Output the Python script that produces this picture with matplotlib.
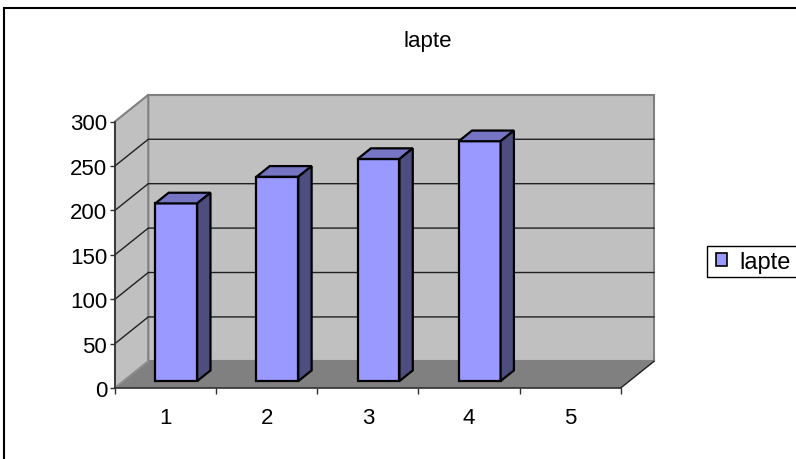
import matplotlib
matplotlib.use("Agg")
import matplotlib.pyplot as plt
from matplotlib.patches import Polygon, Rectangle

plt.rcParams['font.family'] = ['Liberation Sans', 'DejaVu Sans']

title = "lapte"
series_name = "lapte"
categories = [1, 2, 3, 4, 5]
values = [200, 230, 250, 270, None]
y_ticks = [0, 50, 100, 150, 200, 250, 300]

# fake 3d look: depth offset of the back wall in data units
DX = 0.329
DY = 30.0
F0, F1 = 0.26, 0.66      # bar depth (fraction of the floor depth)
HALF_W = 0.207

WALL = '#C0C0C0'
FLOOR = '#808080'
BAR_FRONT = '#9999FF'
BAR_TOP = '#7575C4'
BAR_SIDE = '#4D4D80'

fig = plt.figure(figsize=(7.96, 4.60), dpi=100)
ax = fig.add_axes([115 / 796, 1 - 389 / 460, 505.7 / 796, 266.5 / 460])
xmin, xmax = 0.5, len(categories) + 0.5
ymin, ymax = 0, 300
ax.set_xlim(xmin, xmax)
ax.set_ylim(ymin, ymax)
for s in ax.spines.values():
    s.set_visible(False)
ax.patch.set_visible(False)


def poly(pts, fc, ec='none', lw=1.0, z=1):
    ax.add_patch(Polygon(pts, closed=True, facecolor=fc, edgecolor=ec,
                         linewidth=lw, clip_on=False, zorder=z, joinstyle='miter'))


# back wall, side wall, floor
poly([(xmin + DX, ymin + DY), (xmax + DX, ymin + DY), (xmax + DX, ymax + DY), (xmin + DX, ymax + DY)],
     WALL, '#808080', 1.5, 1)
poly([(xmin, ymin), (xmin + DX, ymin + DY), (xmin + DX, ymax + DY), (xmin, ymax)], WALL, '#808080', 1.5, 1)

# gridlines on the walls
for t in y_ticks[1:-1]:
    ax.plot([xmin, xmin + DX, xmax + DX], [t, t + DY, t + DY], color='#202020', lw=1.0,
            clip_on=False, zorder=2)

poly([(xmin, ymin), (xmax, ymin), (xmax + DX, ymin + DY), (xmin + DX, ymin + DY)], FLOOR, 'none', 1, 3)
ax.plot([xmax, xmax + DX], [ymin, ymin + DY], color='#202020', lw=1.0, clip_on=False, zorder=3)
ax.plot([xmin, xmin + DX], [ymin, ymin + DY], color='#909090', lw=1.0, clip_on=False, zorder=3)

# axes lines
ax.plot([xmin, xmin], [ymin, ymax], color='#303030', lw=1.2, clip_on=False, zorder=4)
ax.plot([xmin, xmax], [ymin, ymin], color='#303030', lw=1.2, clip_on=False, zorder=4)

# columns
for c, v in zip(categories, values):
    if v is None:
        continue
    x0 = c - HALF_W + 0.02 + F0 * DX
    x1 = c + HALF_W + 0.02 + F0 * DX
    y0 = F0 * DY
    d = (F1 - F0)
    y1 = v + y0
    poly([(x0, y0), (x1, y0), (x1, y1), (x0, y1)], BAR_FRONT, 'black', 1.6, 5)
    poly([(x0, y1), (x1, y1), (x1 + d * DX, y1 + d * DY), (x0 + d * DX, y1 + d * DY)],
         BAR_TOP, 'black', 1.6, 5)
    poly([(x1, y0), (x1 + d * DX, y0 + d * DY), (x1 + d * DX, y1 + d * DY), (x1, y1)],
         BAR_SIDE, 'black', 1.6, 5)

ax.set_yticks(y_ticks)
ax.set_yticklabels([str(t) for t in y_ticks])
ax.tick_params(axis='y', length=3.6, width=1.0, pad=2, labelsize=16, color='#303030')

ax.set_xticks([i + 0.5 for i in range(len(categories) + 1)])
ax.set_xticklabels([])
ax.set_xticks(categories, minor=True)
ax.set_xticklabels([str(c) for c in categories], minor=True)
ax.tick_params(axis='x', which='major', length=4.3, width=1.0, color='#303030')
ax.tick_params(axis='x', which='minor', length=0, pad=14, labelsize=16)

fig.text(428 / 796, 1 - 42 / 460, title, ha='center', va='center', fontsize=16)

# legend: entries without frame, box drawn separately so it runs past the edge
handle = Rectangle((0, 0), 1, 1, facecolor=BAR_FRONT, edgecolor='black', linewidth=1.2)
fig.legend([handle], [series_name], loc='center left', bbox_to_anchor=(716 / 796, 1 - 263 / 460),
           frameon=False, fontsize=17,
           handlelength=0.47, handleheight=0.47, handletextpad=0.5, borderpad=0.0,
           borderaxespad=0)
fig.add_artist(Rectangle((707 / 796, 1 - 278 / 460), 0.2, 31 / 460, transform=fig.transFigure,
                         fill=False, edgecolor='black', linewidth=1.0))

# outer chart border
fig.add_artist(Rectangle((4 / 796, -0.1), 1.2, 1 - 9 / 460 + 0.1, transform=fig.transFigure,
                         fill=False, edgecolor='black', linewidth=1.5))

fig.savefig("out.png", dpi=100)
